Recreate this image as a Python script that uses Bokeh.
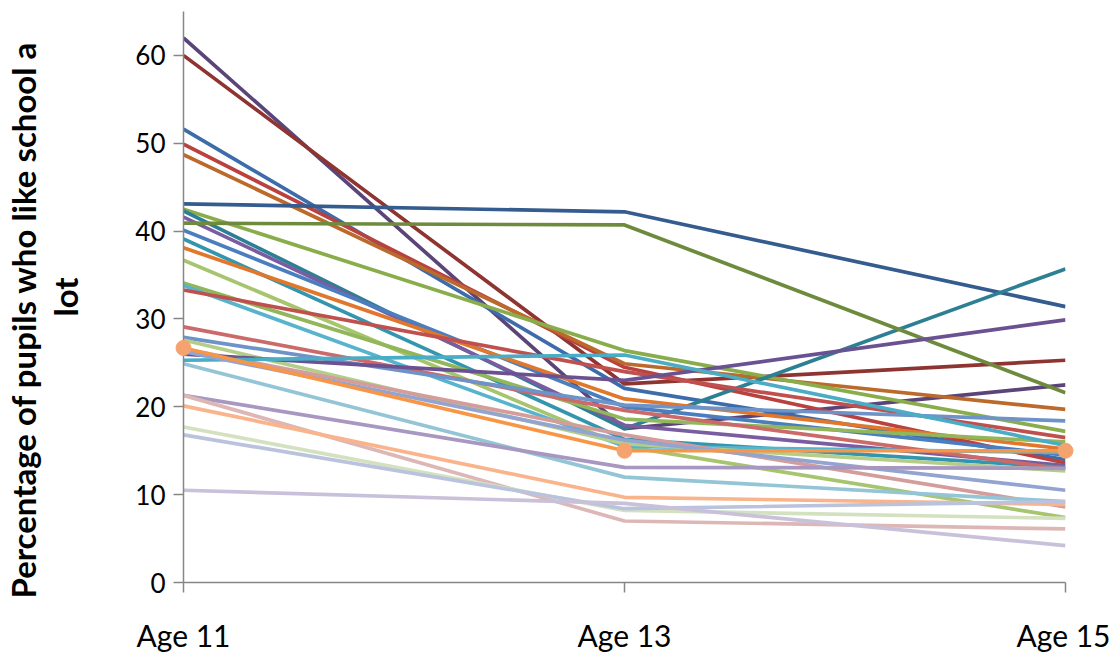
from bokeh.plotting import figure
from bokeh.models import Range1d, FixedTicker, ColumnDataSource, Title
from bokeh.embed import file_html
from bokeh.resources import INLINE

categories = ["Age 11", "Age 13", "Age 15"]

# each series: values at Age 11, Age 13, Age 15
series_values = [
    [62.0, 17.5, 22.5],
    [60.0, 22.6, 25.3],
    [51.6, 22.1, 14.0],
    [49.9, 24.5, 13.6],
    [48.7, 24.9, 19.7],
    [43.1, 42.2, 31.4],
    [42.5, 26.4, 17.2],
    [42.3, 17.5, 35.7],
    [41.6, 17.9, 13.3],
    [40.9, 40.7, 21.6],
    [40.1, 20.0, 14.5],
    [39.1, 16.3, 13.1],
    [38.1, 20.9, 15.2],
    [36.7, 15.5, 7.4],
    [34.1, 18.6, 16.0],
    [33.8, 15.5, 14.8],
    [33.3, 24.0, 16.5],
    [29.1, 19.6, 12.9],
    [27.9, 20.2, 18.4],
    [27.6, 15.8, 12.7],
    [26.6, 16.8, 8.6],
    [26.0, 23.0, 29.9],
    [25.3, 25.9, 15.6],
    [26.3, 16.2, 10.5],
    [24.9, 12.0, 9.2],
    [21.3, 13.1, 13.0],
    [21.3, 7.0, 6.1],
    [20.1, 9.7, 8.9],
    [17.7, 8.2, 7.3],
    [16.8, 8.4, 9.2],
    [10.5, 9.0, 4.2],
]
series_colors = [
    "#5B4578", "#8E3431", "#3D6CAB", "#B9413F", "#BB6A2B", "#345C8F",
    "#8AAD4C", "#2D7F93", "#7A5CA0", "#6E8B3D", "#4A7EBF", "#3496AE",
    "#E0772C", "#A7C46F", "#92B65A", "#58B4CD", "#C0504D", "#CB6A68",
    "#6E93C9", "#B4CE8A", "#D49C9A", "#6A5191", "#4BACC6", "#92A4CF",
    "#93C5D6", "#A897C0", "#DDB7B5", "#F9B48C", "#D3E1C0", "#BAC3DD",
    "#C9C1D9",
]

highlight_values = [26.7, 15.0, 15.0]
highlight_color = "#F79646"

y_ticks = [0, 10, 20, 30, 40, 50, 60]
y_title_lines = ["Percentage of pupils who like school a", "lot"]

p = figure(width=1110, height=655, output_backend="svg", toolbar_location=None,
           x_range=Range1d(0, len(categories) - 1), y_range=Range1d(0, 65),
           min_border_left=183, min_border_right=45, min_border_top=11, min_border_bottom=60)
p.outline_line_color = None
p.grid.visible = False
p.background_fill_color = "white"

xs = list(range(len(categories)))
for vals, col in zip(series_values, series_colors):
    p.line(xs, vals, line_color=col, line_width=3.7)

p.line(xs, highlight_values, line_color=highlight_color, line_width=3.7)
src = ColumnDataSource(dict(x=xs, y=highlight_values))
p.scatter("x", "y", source=src, size=15, fill_color="#F5A36E", line_color="#F5A36E", level="overlay")

p.xaxis.ticker = FixedTicker(ticks=xs)
p.xaxis.major_label_overrides = {i: c for i, c in enumerate(categories)}
p.xaxis.major_label_text_font = "Lato"
p.xaxis.major_label_text_font_size = "30px"
p.xaxis.major_label_text_color = "black"
p.xaxis.major_tick_out = 10
p.xaxis.major_tick_in = 0
p.xaxis.minor_tick_out = 0
p.xaxis.minor_tick_in = 0
p.xaxis.major_label_standoff = 24
p.xaxis.axis_line_color = "#868686"
p.xaxis.axis_line_width = 1.5
p.xaxis.major_tick_line_color = "#868686"
p.xaxis.major_tick_line_width = 1.5

p.yaxis.ticker = FixedTicker(ticks=y_ticks)
p.yaxis.major_label_text_font = "Lato"
p.yaxis.major_label_text_font_size = "26px"
p.yaxis.major_label_text_color = "black"
p.yaxis.major_tick_out = 10
p.yaxis.major_tick_in = 0
p.yaxis.minor_tick_out = 0
p.yaxis.minor_tick_in = 0
p.yaxis.major_label_standoff = 8
p.yaxis.axis_line_color = "#868686"
p.yaxis.axis_line_width = 1.5
p.yaxis.major_tick_line_color = "#868686"
p.yaxis.major_tick_line_width = 1.5
# invisible spacer label to push the title away from the tick labels
p.yaxis.axis_label = "\u00a0"
p.yaxis.axis_label_text_font_size = "1px"
p.yaxis.axis_label_standoff = 44

# y-axis title as two stacked left-side titles ("lot" nearest to the axis)
p.add_layout(Title(text=y_title_lines[1], align="center", standoff=0,
                   text_font="Lato", text_font_style="bold",
                   text_font_size="33px", text_color="black"), "left")
p.add_layout(Title(text=y_title_lines[0], align="left", offset=-16, standoff=0,
                   text_font="Lato", text_font_style="bold",
                   text_font_size="33px", text_color="black"), "left")

open("out.html", "w").write(file_html(p, INLINE))
